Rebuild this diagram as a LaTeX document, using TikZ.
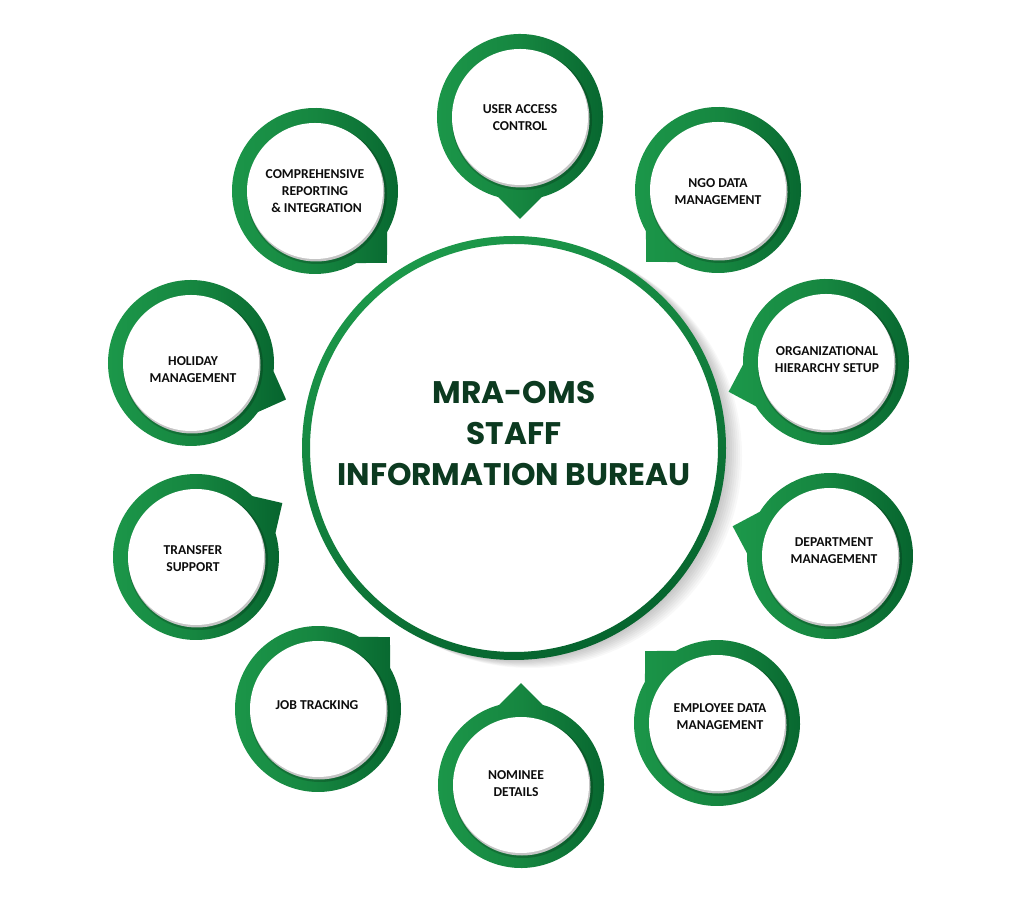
\documentclass[tikz,border=0pt]{standalone}
\usepackage{fontspec}
\setmainfont{Carlito}
\newfontfamily\titlefont{Poppins}
\usetikzlibrary{calc}
\definecolor{gL}{RGB}{28,152,74}
\definecolor{gM}{RGB}{22,134,64}
\definecolor{gD}{RGB}{6,100,46}
\definecolor{titlegreen}{RGB}{12,58,32}
\definecolor{rimgray}{RGB}{196,196,196}
\tikzset{
  sattext/.style={font=\bfseries\fontsize{13.6}{17}\selectfont, align=center, text=black!95, inner sep=0pt},
  titletext/.style={font=\titlefont\bfseries\fontsize{31.2}{41}\selectfont, align=center, text=titlegreen, inner sep=0pt},
}
\newcommand\mysat[3]{%
  \begin{scope}[shift={(#1,#2)}]
    \shade[left color=gL, right color=gD, middle color=gM]
      (#3+15.2:83) arc[start angle=#3+15.2, end angle=#3+344.8, radius=83] -- (#3:101.8) -- cycle;
    \fill[black,opacity=0.18] (2,-3) circle (70);
    \fill[rimgray] (1,-2) circle (68.5);
    \fill[white] (0,0) circle (68);
  \end{scope}}
\begin{document}
\begin{tikzpicture}[x=1pt,y=1pt]
\useasboundingbox (0,0) rectangle (1024,915);
\fill[white] (0,0) rectangle (1024,915);
% central circle
\coordinate (C) at (514,467);
\foreach \k in {2,4,...,16} {\fill[black,opacity=0.028] (514+\k,467-0.5*\k) circle (212);}
\fill[white] (C) circle (208);
\shade[even odd rule, top color=gL, bottom color=gD, shading angle=25] (C) circle (212) (C) circle (204);
\node[titletext] (title) at (514,481) {MRA-OMS\\STAFF\\INFORMATION BUREAU};
% satellites
\mysat{520}{798}{270}
\mysat{718}{725}{225}
\mysat{826}{553}{197}
\mysat{830}{359}{163}
\mysat{717}{192}{135}
\mysat{521}{130}{90}
\mysat{318}{206}{45}
\mysat{196}{358}{32}
\mysat{191}{552}{339}
\mysat{315}{724}{315}
\node[sattext] (uac) at (520,797) {USER ACCESS\\CONTROL};
\node[sattext] (ngo) at (718,723) {NGO DATA\\MANAGEMENT};
\node[sattext] (org) at (827,555) {ORGANIZATIONAL\\HIERARCHY SETUP};
\node[sattext] (dep) at (834,364) {DEPARTMENT\\MANAGEMENT};
\node[sattext] (emp) at (720,198) {EMPLOYEE DATA\\MANAGEMENT};
\node[sattext] (nom) at (516,131) {NOMINEE\\DETAILS};
\node[sattext] (job) at (317,210) {JOB TRACKING};
\node[sattext] (tra) at (193,356) {TRANSFER\\SUPPORT};
\node[sattext] (hol) at (193,545) {HOLIDAY\\MANAGEMENT};
\node[sattext] (com) at (315,724) {COMPREHENSIVE\\REPORTING\\\ \& INTEGRATION};
\end{tikzpicture}
\end{document}
